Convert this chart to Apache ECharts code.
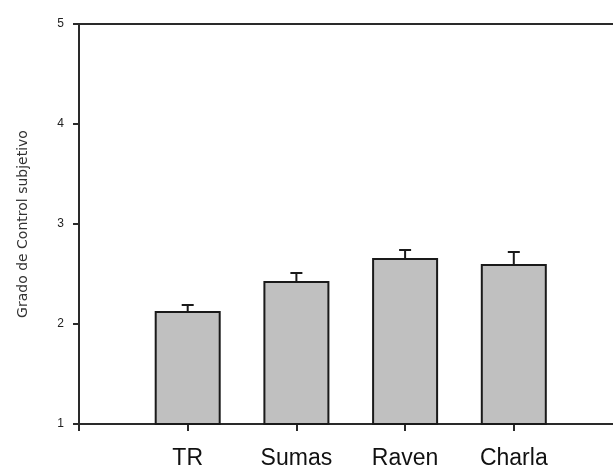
<!DOCTYPE html>
<html>
<head>
<meta charset="utf-8">
<script src="https://cdn.jsdelivr.net/npm/echarts@6/dist/echarts.min.js"></script>
<style>html,body{margin:0;padding:0;background:#fff;overflow:hidden}#c{width:613px;height:471px}</style>
</head>
<body>
<div id="c"></div>
<script>
const categories = ['TR', 'Sumas', 'Raven', 'Charla'];
const means = [2.13, 2.43, 2.66, 2.60];
const errors = [0.06, 0.08, 0.08, 0.12];
const yTicks = [1, 2, 3, 4, 5];

const axisData = [''].concat(categories, ['']);
const barData = ['-'].concat(means, ['-']);
const errData = categories.map((c, i) => [i + 1, means[i], means[i] + errors[i]]);
const lineColor = '#2a2a2a';

const chart = echarts.init(document.getElementById('c'), null, {renderer: 'canvas'});
chart.setOption({
  animation: false,
  backgroundColor: '#fff',
  grid: {left: 79, top: 24, width: 543.5, height: 400, containLabel: false, outerBoundsMode: 'none'},
  xAxis: [{
    type: 'category',
    data: axisData,
    boundaryGap: false,
    axisLine: {lineStyle: {color: lineColor, width: 2}},
    axisTick: {show: true, length: 7, lineStyle: {color: lineColor, width: 2}},
    axisLabel: {show: true, interval: 0, margin: 23, fontFamily: 'Liberation Sans', fontSize: 23, color: '#111'}
  }, {
    type: 'category',
    data: axisData,
    boundaryGap: false,
    position: 'top',
    axisLine: {show: true, lineStyle: {color: lineColor, width: 2}},
    axisTick: {show: false},
    axisLabel: {show: false}
  }],
  yAxis: {
    type: 'value',
    min: yTicks[0],
    max: yTicks[yTicks.length - 1],
    interval: 1,
    name: 'Grado de Control subjetivo',
    nameLocation: 'middle',
    nameGap: 49,
    nameTextStyle: {fontFamily: 'DejaVu Sans', fontSize: 14, color: '#333'},
    axisLine: {show: true, lineStyle: {color: lineColor, width: 2}},
    axisTick: {show: true, length: 6, lineStyle: {color: lineColor, width: 2}},
    axisLabel: {margin: 15, fontFamily: 'Liberation Sans', fontSize: 12, color: '#222'},
    splitLine: {show: false}
  },
  series: [{
    type: 'bar',
    data: barData,
    barWidth: 66,
    itemStyle: {color: '#c0c0c0', borderColor: '#1a1a1a', borderWidth: 2},
    z: 2
  }, {
    type: 'custom',
    data: errData,
    z: 3,
    renderItem: function (params, api) {
      const x = api.value(0);
      const lo = api.coord([x, api.value(1)]);
      const hi = api.coord([x, api.value(2)]);
      const cap = 6;
      return {
        type: 'group',
        children: [
          {type: 'line', shape: {x1: lo[0], y1: lo[1], x2: hi[0], y2: hi[1]}, style: {stroke: '#1a1a1a', lineWidth: 2}},
          {type: 'line', shape: {x1: hi[0] - cap, y1: hi[1], x2: hi[0] + cap, y2: hi[1]}, style: {stroke: '#1a1a1a', lineWidth: 2}}
        ]
      };
    }
  }]
});
</script>
</body>
</html>
